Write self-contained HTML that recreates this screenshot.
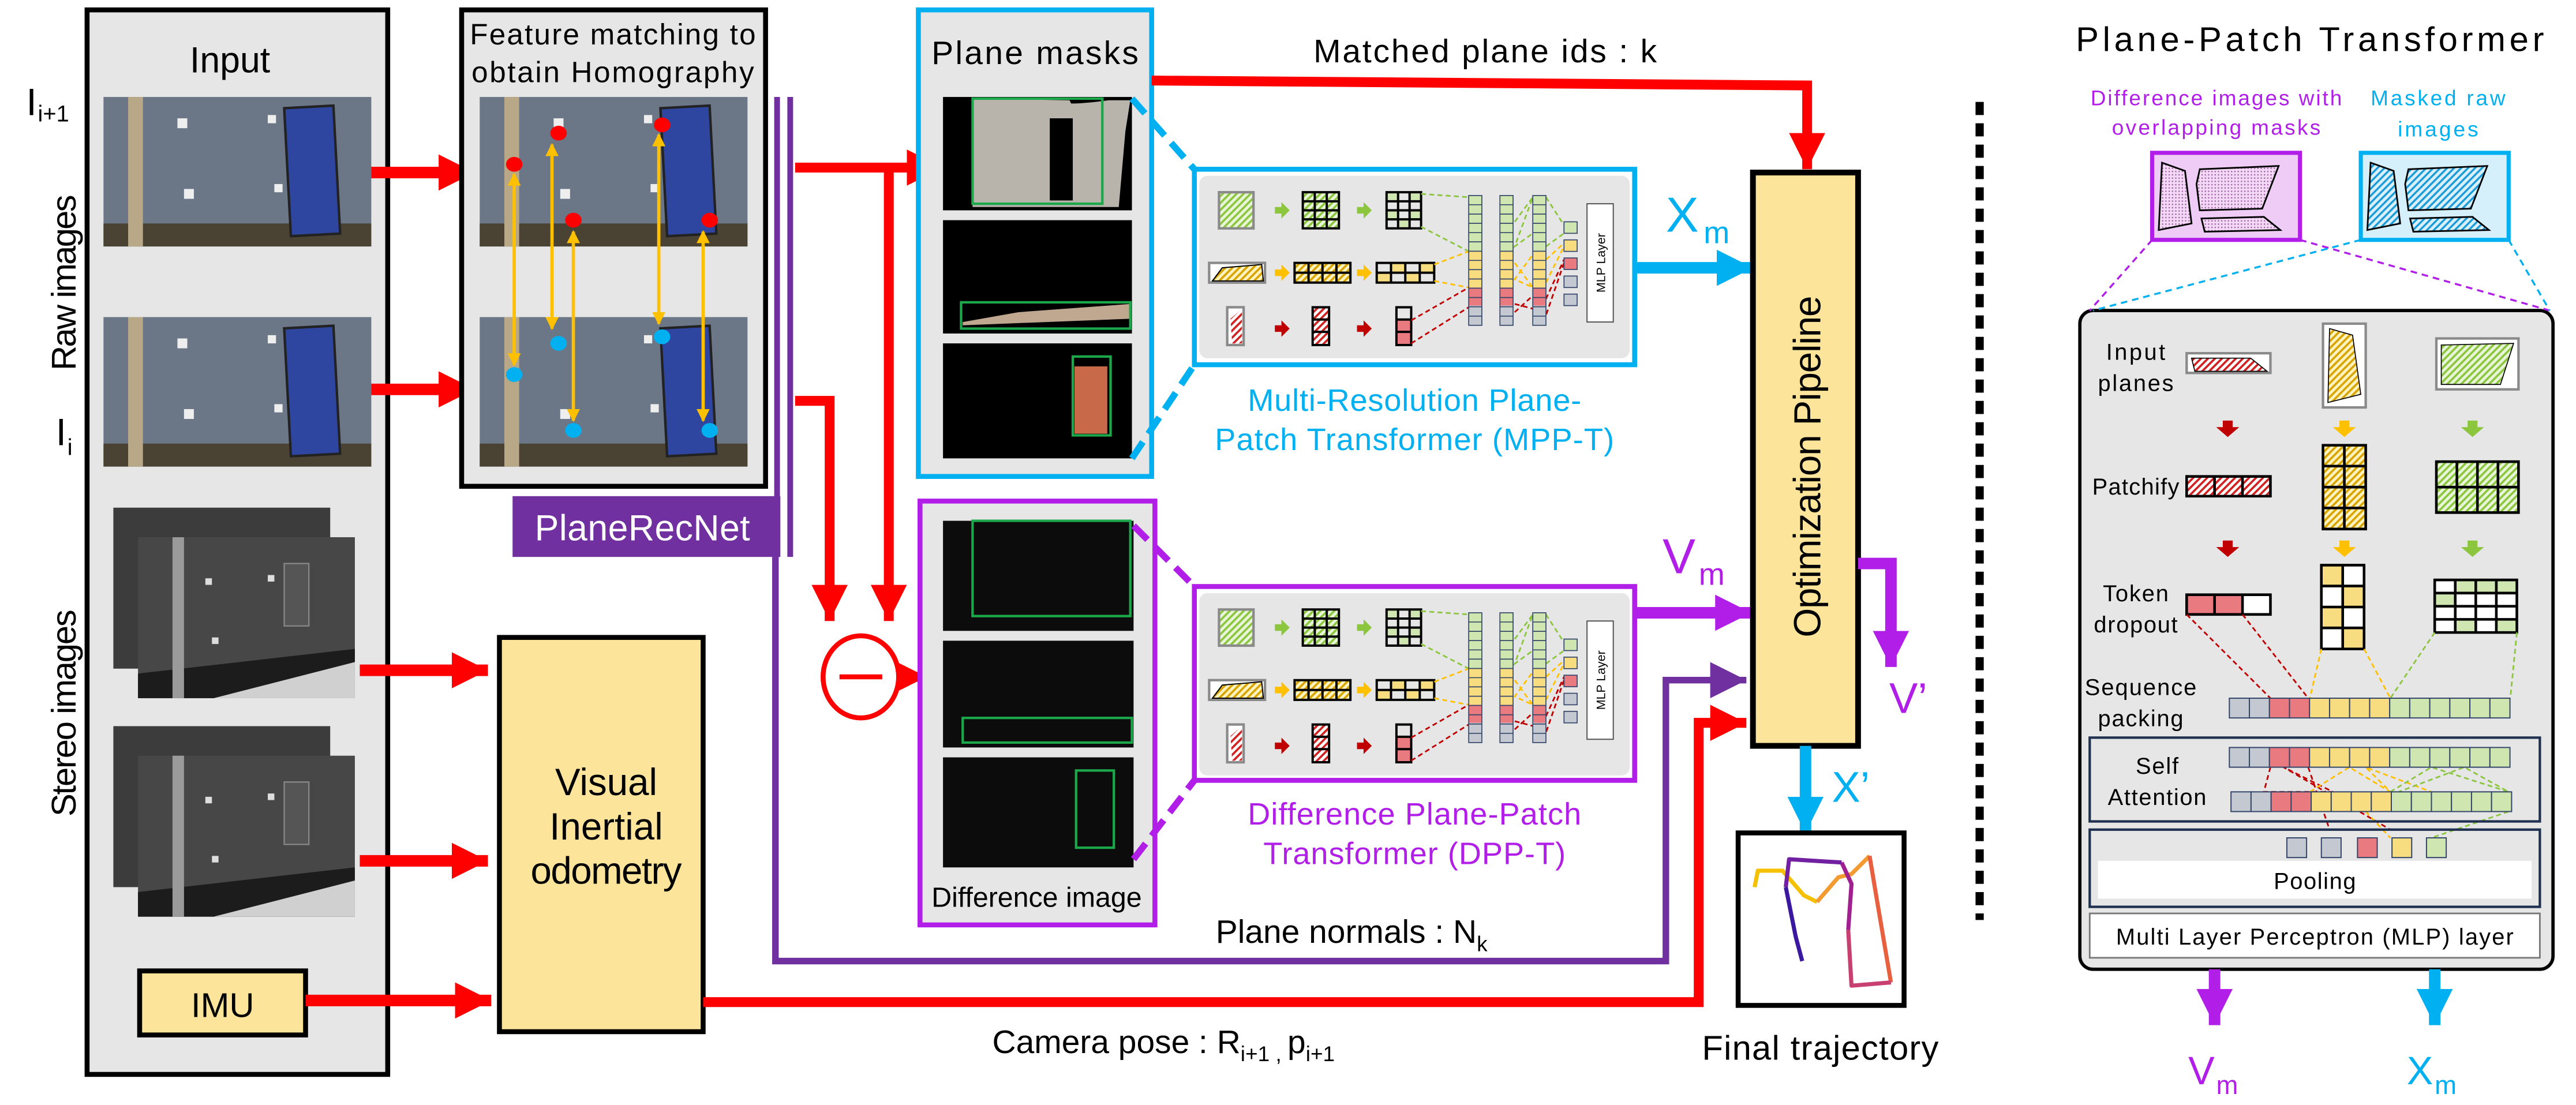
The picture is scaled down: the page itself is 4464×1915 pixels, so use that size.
<!DOCTYPE html>
<html><head><meta charset="utf-8">
<style>
html,body{margin:0;padding:0;background:#fff;}
svg{display:block;}
text{font-family:"Liberation Sans",sans-serif;}
</style></head>
<body>
<svg width="4464" height="1915" viewBox="0 0 1568 672.6" xmlns="http://www.w3.org/2000/svg">
<defs>
  <marker id="mr" markerUnits="userSpaceOnUse" markerWidth="24" markerHeight="22" refX="22" refY="11" orient="auto"><path d="M0,0 L22,11 L0,22 Z" fill="#f00"/></marker>
  <marker id="mc" markerUnits="userSpaceOnUse" markerWidth="24" markerHeight="22" refX="22" refY="11" orient="auto"><path d="M0,0 L22,11 L0,22 Z" fill="#00b0f0"/></marker>
  <marker id="mp" markerUnits="userSpaceOnUse" markerWidth="24" markerHeight="22" refX="22" refY="11" orient="auto"><path d="M0,0 L22,11 L0,22 Z" fill="#b01ee8"/></marker>
  <marker id="mpd" markerUnits="userSpaceOnUse" markerWidth="24" markerHeight="22" refX="22" refY="11" orient="auto"><path d="M0,0 L22,11 L0,22 Z" fill="#7030a0"/></marker>
  <marker id="my" markerUnits="userSpaceOnUse" markerWidth="8" markerHeight="8" refX="7" refY="4" orient="auto-start-reverse"><path d="M0,0 L8,4 L0,8 Z" fill="#ffc000"/></marker>
  <pattern id="hG" patternUnits="userSpaceOnUse" width="3" height="3" patternTransform="rotate(45)"><rect width="3" height="3" fill="#e8f5d8"/><rect width="1.3" height="3" fill="#8cc63f"/></pattern>
  <pattern id="hY" patternUnits="userSpaceOnUse" width="3" height="3" patternTransform="rotate(45)"><rect width="3" height="3" fill="#fff3c0"/><rect width="1.3" height="3" fill="#d9a400"/></pattern>
  <pattern id="hR" patternUnits="userSpaceOnUse" width="3" height="3" patternTransform="rotate(45)"><rect width="3" height="3" fill="#fff"/><rect width="1.3" height="3" fill="#d02020"/></pattern>
  <pattern id="hB" patternUnits="userSpaceOnUse" width="3" height="3" patternTransform="rotate(45)"><rect width="3" height="3" fill="#d8f0fb"/><rect width="1.2" height="3" fill="#1a9ad6"/></pattern>
  <pattern id="dP" patternUnits="userSpaceOnUse" width="2" height="2"><rect width="2" height="2" fill="#f3d9f5"/><rect width="0.8" height="0.8" fill="#a060a8"/></pattern>
  <g id="col">
    <rect x="0" y="0" width="8" height="34" fill="#cfe6b0"/>
    <rect x="0" y="34" width="8" height="22" fill="#f7dc80"/>
    <rect x="0" y="56" width="8" height="11" fill="#e87a80"/>
    <rect x="0" y="67" width="8" height="12" fill="#c4c8d0"/>
    <g fill="none" stroke="#34466a" stroke-width="0.6">
      <rect x="0" y="0" width="8" height="79"/>
      <path d="M0,5.6H8M0,11.3H8M0,16.9H8M0,22.6H8M0,28.2H8M0,33.9H8M0,39.5H8M0,45.1H8M0,50.8H8M0,56.4H8M0,62.1H8M0,67.7H8M0,73.4H8"/>
    </g>
  </g>
  <g id="tf">
    <rect x="730" y="107" width="262" height="111" rx="5" fill="#e6e6e6"/>
    <rect x="742" y="117" width="21" height="22" fill="url(#hG)" stroke="#8a8a8a" stroke-width="1.5"/>
    <path d="M776,126h4v-3l5,5-5,5v-3h-4z" fill="#8cc63f"/>
    <rect x="793" y="117" width="22" height="22" fill="url(#hG)"/>
    <path d="M793,117h22v22h-22zM800.3,117v22M807.6,117v22M793,122.5h22M793,128h22M793,133.5h22" fill="none" stroke="#000" stroke-width="1.4"/>
    <path d="M826,126h4v-3l5,5-5,5v-3h-4z" fill="#8cc63f"/>
    <rect x="844" y="117" width="21" height="22" fill="#e6e6e6"/>
    <rect x="844" y="117" width="7" height="5.5" fill="#cfe6b0"/><rect x="858" y="117" width="7" height="5.5" fill="#cfe6b0"/><rect x="844" y="128" width="7" height="5.5" fill="#cfe6b0"/><rect x="851" y="133.5" width="7" height="5.5" fill="#cfe6b0"/><rect x="858" y="128" width="7" height="5.5" fill="#cfe6b0"/>
    <path d="M844,117h21v22h-21zM851,117v22M858,117v22M844,122.5h21M844,128h21M844,133.5h21" fill="none" stroke="#000" stroke-width="1.4"/>
    <rect x="736" y="160" width="34" height="12" fill="#fff" stroke="#8a8a8a" stroke-width="1.5"/>
    <path d="M738,171 L744,163 L768,161 L769,171Z" fill="url(#hY)" stroke="#000" stroke-width="0.7"/>
    <path d="M776,164h4v-3l5,5-5,5v-3h-4z" fill="#ffc000"/>
    <rect x="788" y="160" width="34" height="12" fill="url(#hY)"/>
    <path d="M788,160h34v12h-34zM796.5,160v12M805,160v12M813.5,160v12M788,166h34" fill="none" stroke="#000" stroke-width="1.4"/>
    <path d="M826,164h4v-3l5,5-5,5v-3h-4z" fill="#ffc000"/>
    <rect x="838" y="160" width="35" height="12" fill="#e6e6e6"/>
    <rect x="846.7" y="160" width="8.7" height="6" fill="#f7dc80"/><rect x="864.2" y="160" width="8.7" height="6" fill="#f7dc80"/><rect x="838" y="166" width="8.7" height="6" fill="#f7dc80"/><rect x="855.4" y="166" width="8.7" height="6" fill="#f7dc80"/>
    <path d="M838,160h35v12h-35zM846.7,160v12M855.4,160v12M864.2,160v12M838,166h35" fill="none" stroke="#000" stroke-width="1.4"/>
    <rect x="747" y="187" width="10" height="23" fill="#fff" stroke="#8a8a8a" stroke-width="1.5"/>
    <path d="M749,194 L756,188 L756,209 L750,209Z" fill="url(#hR)"/>
    <path d="M776,198h4v-3l5,5-5,5v-3h-4z" fill="#c00000"/>
    <rect x="799" y="187" width="10" height="23" fill="url(#hR)"/>
    <path d="M799,187h10v23h-10zM799,194.5h10M799,202h10" fill="none" stroke="#000" stroke-width="1.4"/>
    <path d="M826,198h4v-3l5,5-5,5v-3h-4z" fill="#c00000"/>
    <rect x="850" y="195" width="9" height="15" fill="#e87a80"/>
    <path d="M850,187h9v23h-9zM850,194.5h9M850,202h9" fill="none" stroke="#000" stroke-width="1.4"/>
    <g fill="none" stroke-width="1" stroke-dasharray="3,2">
      <path d="M865,118 L894,120 M865,138 L894,153" stroke="#8cc63f"/>
      <path d="M873,161 L894,153 M873,171 L894,175" stroke="#ffc000"/>
      <path d="M859,195 L894,175 M859,209 L894,187" stroke="#c00000"/>
      <path d="M922,135 L933,120 L922,150 L933,142 M941,120 L952,137 M941,150 L952,142" stroke="#8cc63f"/>
      <path d="M922,160 L933,175 L922,170 L933,155 M941,158 L952,148 M941,172 L952,150" stroke="#ffc000"/>
      <path d="M922,190 L933,180 L941,192 L952,160 M922,185 L941,190 M941,182 L952,158" stroke="#c00000"/>
    </g>
    <use href="#col" x="894" y="119"/>
    <use href="#col" x="913" y="119"/>
    <use href="#col" x="933" y="119"/>
    <g stroke="#34466a" stroke-width="0.6">
      <rect x="952" y="135" width="8" height="7" fill="#cfe6b0"/>
      <rect x="952" y="146" width="8" height="7" fill="#f7dc80"/>
      <rect x="952" y="157" width="8" height="7" fill="#e87a80"/>
      <rect x="952" y="168" width="8" height="7" fill="#c4c8d0"/>
      <rect x="952" y="179" width="8" height="7" fill="#c4c8d0"/>
    </g>
    <rect x="966" y="124" width="16" height="72" fill="#fff" stroke="#555" stroke-width="0.7"/>
    <text x="0" y="0" transform="translate(977,160) rotate(-90)" text-anchor="middle" font-family="Liberation Serif,serif" font-size="7.5">MLP Layer</text>
  </g>
</defs>

<!-- ============ INPUT ============ -->
<rect x="53" y="6" width="183" height="648" fill="#e6e6e6" stroke="#000" stroke-width="3"/>
<text x="140" y="44" text-anchor="middle" font-size="22">Input</text>
<g id="raw">
  <rect x="63" y="59" width="163" height="91" fill="#6b7787"/>
  <rect x="63" y="136" width="163" height="14" fill="#4a4232"/>
  <rect x="78" y="59" width="9" height="91" fill="#b8a888"/>
  <rect x="175" y="65" width="30" height="78" fill="#2f46a0" stroke="#222" stroke-width="1.5" transform="rotate(-3 190 104)"/>
  <rect x="108" y="72" width="6" height="6" fill="#eee"/><rect x="163" y="70" width="5" height="5" fill="#eee"/><rect x="112" y="115" width="6" height="6" fill="#eee"/><rect x="167" y="112" width="5" height="5" fill="#eee"/>
</g>
<use href="#raw" y="134"/>
<g id="st">
  <rect x="69" y="309" width="132" height="98" fill="#3c3c3c"/>
  <rect x="84" y="327" width="132" height="98" fill="#474747"/>
  <path d="M84,410 L216,395 L216,425 L84,425Z" fill="#1c1c1c"/>
  <path d="M130,425 L216,403 L216,425Z" fill="#d0d0d0"/>
  <rect x="105" y="327" width="7" height="98" fill="#9a9a9a"/>
  <rect x="173" y="343" width="15" height="38" fill="#555" stroke="#888" stroke-width="0.8"/>
  <rect x="125" y="352" width="4" height="4" fill="#ddd"/><rect x="163" y="350" width="4" height="4" fill="#ddd"/><rect x="129" y="388" width="4" height="4" fill="#ddd"/>
</g>
<use href="#st" y="133"/>
<rect x="85" y="591" width="101" height="39" fill="#fde49b" stroke="#000" stroke-width="3"/>
<text x="135.5" y="619" text-anchor="middle" font-size="21">IMU</text>

<text x="16" y="70" font-size="23">I</text><text x="23" y="74" font-size="14">i+1</text>
<text x="34" y="271" font-size="23">I</text><text x="41" y="277" font-size="14">i</text>
<text transform="translate(46,172) rotate(-90)" text-anchor="middle" font-size="21" textLength="107">Raw images</text>
<text transform="translate(46,434) rotate(-90)" text-anchor="middle" font-size="21" textLength="126">Stereo images</text>

<g stroke="#f00" stroke-width="7" fill="none">
  <path d="M226,105 L289,105" marker-end="url(#mr)"/>
  <path d="M226,237 L289,237" marker-end="url(#mr)"/>
  <path d="M219,408 L297,408" marker-end="url(#mr)"/>
  <path d="M219,524 L297,524" marker-end="url(#mr)"/>
  <path d="M186,609 L299,609" marker-end="url(#mr)"/>
</g>

<!-- ============ FEATURE ============ -->
<rect x="281" y="6" width="185" height="290" fill="#e6e6e6" stroke="#000" stroke-width="3"/>
<text x="373" y="27" text-anchor="middle" font-size="18" textLength="174">Feature matching to</text>
<text x="373" y="50" text-anchor="middle" font-size="18" textLength="172">obtain Homography</text>
<g transform="translate(229,0)"><use href="#raw"/></g>
<g transform="translate(229,134)"><use href="#raw"/></g>
<g stroke="#ffc000" stroke-width="2" fill="none">
  <path d="M313,106 L313,222" marker-start="url(#my)" marker-end="url(#my)"/>
  <path d="M336,88 L336,200" marker-start="url(#my)" marker-end="url(#my)"/>
  <path d="M349,141 L349,256" marker-start="url(#my)" marker-end="url(#my)"/>
  <path d="M401,82 L401,197" marker-start="url(#my)" marker-end="url(#my)"/>
  <path d="M428,141 L428,256" marker-start="url(#my)" marker-end="url(#my)"/>
</g>
<g fill="#f00"><ellipse cx="340" cy="81" rx="5" ry="4.5"/><ellipse cx="313" cy="100" rx="5" ry="4.5"/><ellipse cx="349" cy="134" rx="5" ry="4.5"/><ellipse cx="403" cy="76" rx="5" ry="4.5"/><ellipse cx="432" cy="134" rx="5" ry="4.5"/></g>
<g fill="#00b0f0"><ellipse cx="313" cy="228" rx="5" ry="4.5"/><ellipse cx="340" cy="209" rx="5" ry="4.5"/><ellipse cx="349" cy="262" rx="5" ry="4.5"/><ellipse cx="403" cy="205" rx="5" ry="4.5"/><ellipse cx="432" cy="262" rx="5" ry="4.5"/></g>

<rect x="312" y="302" width="163" height="37" fill="#7030a0"/>
<text x="391" y="329" text-anchor="middle" font-size="22" fill="#fff" textLength="131">PlaneRecNet</text>
<path d="M473,59 V339 M481,59 V339" stroke="#7030a0" stroke-width="3.5" fill="none"/>
<path d="M472,339 V585 H1014 V414 H1063" stroke="#7030a0" stroke-width="4" fill="none" marker-end="url(#mpd)"/>

<g stroke="#f00" stroke-width="6" fill="none">
  <path d="M484,102 H574" marker-end="url(#mr)"/>
  <path d="M541,102 V378" marker-end="url(#mr)"/>
  <path d="M484,244 H505 V378" marker-end="url(#mr)"/>
  <path d="M548,412 H564" marker-end="url(#mr)"/>
</g>
<ellipse cx="524" cy="412" rx="23" ry="25" fill="#fff" stroke="#f00" stroke-width="3"/>
<path d="M511,412 H537" stroke="#f00" stroke-width="3"/>

<rect x="304" y="388" width="124" height="240" fill="#fde49b" stroke="#000" stroke-width="3"/>
<text x="369" y="484" text-anchor="middle" font-size="23">Visual</text>
<text x="369" y="511" text-anchor="middle" font-size="23">Inertial</text>
<text x="369" y="538" text-anchor="middle" font-size="23" textLength="92">odometry</text>
<path d="M428,610 H1034 V440 H1063" stroke="#f00" stroke-width="6" fill="none" marker-end="url(#mr)"/>

<!-- ============ PLANE MASKS ============ -->
<rect x="559" y="6" width="142" height="284" fill="#e6e6e6" stroke="#00b0f0" stroke-width="3"/>
<text x="630" y="39" text-anchor="middle" font-size="20" textLength="126">Plane masks</text>
<rect x="574" y="59" width="115" height="69" fill="#000"/>
<path d="M592,60 L651,61 L652,63 Q660,63 675,61 L688,61 L685,80 L681,126 L592,126Z" fill="#b8b4ac"/>
<rect x="639" y="72" width="14" height="50" fill="#000"/>
<rect x="592" y="60" width="79" height="64" fill="none" stroke="#1aa84a" stroke-width="1.5"/>
<rect x="574" y="134" width="115" height="69" fill="#000"/>
<path d="M586,196 L620,190 L688,185 L688,194 L586,198Z" fill="#c0a890"/>
<rect x="585" y="184" width="103" height="16" fill="none" stroke="#1aa84a" stroke-width="1.5"/>
<rect x="574" y="209" width="115" height="70" fill="#000"/>
<rect x="654" y="223" width="20" height="41" fill="#c86a4a"/>
<rect x="653" y="217" width="23" height="48" fill="none" stroke="#1aa84a" stroke-width="1.5"/>

<!-- ============ DIFF ============ -->
<rect x="560" y="305" width="143" height="258" fill="#e6e6e6" stroke="#b01ee8" stroke-width="3"/>
<rect x="574" y="317" width="116" height="67" fill="#0c0c0c"/>
<rect x="592" y="317" width="96" height="58" fill="none" stroke="#1aa84a" stroke-width="1.5"/>
<rect x="574" y="390" width="116" height="65" fill="#0c0c0c"/>
<rect x="586" y="437" width="103" height="15" fill="none" stroke="#1aa84a" stroke-width="1.5"/>
<rect x="574" y="461" width="116" height="67" fill="#0c0c0c"/>
<rect x="655" y="469" width="23" height="47" fill="none" stroke="#1aa84a" stroke-width="1.5"/>
<text x="631" y="552" text-anchor="middle" font-size="17" textLength="128">Difference image</text>

<path d="M689,60 L727,103 M689,279 L727,222" stroke="#00b0f0" stroke-width="4" stroke-dasharray="12,6" fill="none"/>
<path d="M690,320 L727,357 M690,523 L727,475" stroke="#b01ee8" stroke-width="4" stroke-dasharray="12,6" fill="none"/>

<rect x="727" y="103" width="268" height="119" fill="#fff" stroke="#00b0f0" stroke-width="3"/>
<use href="#tf"/>
<rect x="727" y="357" width="268" height="118" fill="#fff" stroke="#b01ee8" stroke-width="3"/>
<use href="#tf" y="254"/>
<text x="861" y="250" text-anchor="middle" font-size="19" fill="#00b0f0" textLength="203">Multi-Resolution Plane-</text>
<text x="861" y="274" text-anchor="middle" font-size="19" fill="#00b0f0" textLength="243">Patch Transformer (MPP-T)</text>
<text x="861" y="502" text-anchor="middle" font-size="19" fill="#b01ee8" textLength="203">Difference Plane-Patch</text>
<text x="861" y="526" text-anchor="middle" font-size="19" fill="#b01ee8" textLength="184">Transformer (DPP-T)</text>

<text x="904" y="38" text-anchor="middle" font-size="20" textLength="209">Matched plane ids : k</text>
<path d="M701,49 L1100,52 V103" stroke="#f00" stroke-width="6" fill="none" marker-end="url(#mr)"/>

<path d="M995,163 H1067" stroke="#00b0f0" stroke-width="7" fill="none" marker-end="url(#mc)"/>
<text x="1014" y="141" font-size="30" fill="#00b0f0">X</text><text x="1037" y="148" font-size="19" fill="#00b0f0">m</text>
<path d="M995,373 H1066" stroke="#b01ee8" stroke-width="7" fill="none" marker-end="url(#mp)"/>
<text x="1012" y="349" font-size="30" fill="#b01ee8">V</text><text x="1034" y="356" font-size="19" fill="#b01ee8">m</text>

<rect x="1067" y="105" width="64" height="349" fill="#fde49b" stroke="#000" stroke-width="3.5"/>
<text transform="translate(1108,284) rotate(-90)" text-anchor="middle" font-size="23" textLength="208">Optimization Pipeline</text>
<path d="M1131,343 H1151 V406" stroke="#b01ee8" stroke-width="7" fill="none" marker-end="url(#mp)"/>
<text x="1150" y="434" font-size="26" fill="#b01ee8">V’</text>
<path d="M1099,454 V507" stroke="#00b0f0" stroke-width="7" fill="none" marker-end="url(#mc)"/>
<text x="1115" y="488" font-size="26" fill="#00b0f0">X’</text>

<rect x="1058" y="507" width="101" height="105" fill="#fff" stroke="#000" stroke-width="3"/>
<g fill="none" stroke-width="2.5" stroke-linejoin="round">
  <path d="M1068,540 L1070,530 L1085,530 L1098,545 L1106,549" stroke="#f5c000"/>
  <path d="M1106,549 L1119,534 L1127,532 L1138,521" stroke="#f39a30"/>
  <path d="M1138,521 L1142,545 L1151,598" stroke="#e86040"/>
  <path d="M1151,598 L1127,600 L1125,566" stroke="#c84070"/>
  <path d="M1125,566 L1127,538 L1121,525" stroke="#a02090"/>
  <path d="M1121,525 L1089,523 L1087,540" stroke="#7020a0"/>
  <path d="M1087,540 L1093,570 L1097,585" stroke="#3a18a0"/>
</g>
<text x="1108" y="645" text-anchor="middle" font-size="21" textLength="144">Final trajectory</text>

<text x="740" y="574" font-size="20">Plane normals : N<tspan font-size="13" dy="5">k</tspan></text>
<text x="604" y="641" font-size="20">Camera pose : R<tspan font-size="13" dy="5">i+1 , </tspan><tspan dy="-5">p</tspan><tspan font-size="13" dy="5">i+1</tspan></text>

<path d="M1205,62 V560" stroke="#000" stroke-width="5" stroke-dasharray="8,5"/>

<!-- ============ RIGHT PANEL ============ -->
<text x="1406" y="31" text-anchor="middle" font-size="21" textLength="285">Plane-Patch Transformer</text>
<text x="1349" y="64" text-anchor="middle" font-size="13" fill="#b01ee8" textLength="153">Difference images with</text>
<text x="1349" y="82" text-anchor="middle" font-size="13" fill="#b01ee8" textLength="127">overlapping masks</text>
<text x="1484" y="64" text-anchor="middle" font-size="13" fill="#00b0f0" textLength="82">Masked raw</text>
<text x="1484" y="83" text-anchor="middle" font-size="13" fill="#00b0f0" textLength="49">images</text>
<rect x="1310" y="93" width="90" height="53" fill="#efccf5" stroke="#b01ee8" stroke-width="2.5"/>
<g fill="url(#dP)" stroke="#000" stroke-width="1">
  <path d="M1316,99 L1330,104 L1334,136 L1314,140Z"/><path d="M1339,103 L1387,101 L1377,127 L1339,128 L1337,112Z"/><path d="M1340,133 L1378,132 L1388,140 L1342,141Z"/>
</g>
<rect x="1437" y="93" width="90" height="53" fill="#d6f0fb" stroke="#00b0f0" stroke-width="2.5"/>
<g fill="url(#hB)" stroke="#000" stroke-width="1">
  <path d="M1443,99 L1457,104 L1461,136 L1441,140Z"/><path d="M1466,103 L1514,101 L1504,127 L1466,128 L1464,112Z"/><path d="M1467,133 L1505,132 L1515,140 L1469,141Z"/>
</g>
<rect x="1266" y="189" width="288" height="401" rx="8" fill="#e6e6e6" stroke="#000" stroke-width="2"/>
<path d="M1310,146 L1272,189 M1400,146 L1552,189" stroke="#b01ee8" stroke-width="1.2" stroke-dasharray="4,3" fill="none"/>
<path d="M1437,146 L1274,189 M1527,146 L1552,189" stroke="#00b0f0" stroke-width="1.2" stroke-dasharray="4,3" fill="none"/>

<g font-size="14" text-anchor="middle">
  <text x="1300" y="219" textLength="36">Input</text><text x="1300" y="238" textLength="46">planes</text>
  <text x="1300" y="301" textLength="53">Patchify</text>
  <text x="1300" y="366" textLength="40">Token</text><text x="1300" y="385" textLength="51">dropout</text>
  <text x="1303" y="423" textLength="68">Sequence</text><text x="1303" y="442" textLength="52">packing</text>
  <text x="1313" y="471" textLength="26">Self</text><text x="1313" y="490" textLength="60">Attention</text>
</g>
<rect x="1331" y="215" width="51" height="12" fill="#fff" stroke="#8a8a8a" stroke-width="1.5"/>
<path d="M1334,218 L1370,218 L1380,226 L1336,226Z" fill="url(#hR)" stroke="#000" stroke-width="0.6"/>
<rect x="1414" y="197" width="26" height="51" fill="#fff" stroke="#8a8a8a" stroke-width="1.5"/>
<path d="M1418,200 L1432,204 L1437,240 L1417,245Z" fill="url(#hY)" stroke="#000" stroke-width="0.6"/>
<rect x="1483" y="206" width="50" height="31" fill="#fff" stroke="#8a8a8a" stroke-width="1.5"/>
<path d="M1486,210 L1530,209 L1522,234 L1486,234Z" fill="url(#hG)" stroke="#000" stroke-width="0.6"/>
<g>
  <path d="M1353,256h6v4h4l-7,6-7-6h4z" fill="#c00000"/>
  <path d="M1424,256h6v4h4l-7,6-7-6h4z" fill="#ffc000"/>
  <path d="M1502,256h6v4h4l-7,6-7-6h4z" fill="#8cc63f"/>
  <path d="M1353,329h6v4h4l-7,6-7-6h4z" fill="#c00000"/>
  <path d="M1424,329h6v4h4l-7,6-7-6h4z" fill="#ffc000"/>
  <path d="M1502,329h6v4h4l-7,6-7-6h4z" fill="#8cc63f"/>
</g>
<rect x="1331" y="290" width="51" height="12" fill="url(#hR)"/>
<path d="M1331,290h51v12h-51zM1348,290v12M1365,290v12" fill="none" stroke="#000" stroke-width="1.6"/>
<rect x="1414" y="271" width="26" height="51" fill="url(#hY)"/>
<path d="M1414,271h26v51h-26zM1427,271v51M1414,283.7h26M1414,296.5h26M1414,309.2h26" fill="none" stroke="#000" stroke-width="1.6"/>
<rect x="1483" y="281" width="50" height="31" fill="url(#hG)"/>
<path d="M1483,281h50v31h-50zM1495.5,281v31M1508,281v31M1520.5,281v31M1483,296.5h50" fill="none" stroke="#000" stroke-width="1.6"/>
<rect x="1331" y="362" width="51" height="12" fill="#fff"/>
<rect x="1331" y="362" width="17" height="12" fill="#e87a80"/><rect x="1348" y="362" width="17" height="12" fill="#e87a80"/>
<path d="M1331,362h51v12h-51zM1348,362v12M1365,362v12" fill="none" stroke="#000" stroke-width="1.6"/>
<rect x="1413" y="344" width="26" height="51" fill="#fff"/>
<rect x="1413" y="344" width="13" height="12.7" fill="#f7dc80"/><rect x="1426" y="356.7" width="13" height="12.7" fill="#f7dc80"/><rect x="1413" y="369.5" width="13" height="12.7" fill="#f7dc80"/><rect x="1426" y="382.2" width="13" height="12.7" fill="#f7dc80"/>
<path d="M1413,344h26v51h-26zM1426,344v51M1413,356.7h26M1413,369.5h26M1413,382.2h26" fill="none" stroke="#000" stroke-width="1.6"/>
<rect x="1482" y="353" width="50" height="32" fill="#fff"/>
<rect x="1494.5" y="353" width="12.5" height="8" fill="#cfe6b0"/><rect x="1507" y="353" width="12.5" height="8" fill="#cfe6b0"/><rect x="1519.5" y="353" width="12.5" height="8" fill="#cfe6b0"/><rect x="1482" y="361" width="12.5" height="8" fill="#cfe6b0"/><rect x="1494.5" y="377" width="12.5" height="8" fill="#cfe6b0"/><rect x="1519.5" y="377" width="12.5" height="8" fill="#cfe6b0"/>
<path d="M1482,353h50v32h-50zM1494.5,353v32M1507,353v32M1519.5,353v32M1482,361h50M1482,369h50M1482,377h50" fill="none" stroke="#000" stroke-width="1.6"/>
<g fill="none" stroke-width="1" stroke-dasharray="3,2">
  <path d="M1331,374 L1382,425 M1365,374 L1405,425" stroke="#c00000"/>
  <path d="M1413,395 L1406,425 M1439,395 L1455,425" stroke="#ffc000"/>
  <path d="M1482,385 L1455,425 M1532,385 L1528,425" stroke="#8cc63f"/>
  <path d="M1382,467 L1378,482 L1420,482 L1390,467 L1455,505 M1405,467 L1418,505" stroke="#c00000"/>
  <path d="M1406,482 L1430,467 L1455,482 L1440,467 L1480,482 M1440,494 L1455,510" stroke="#ffc000"/>
  <path d="M1455,482 L1480,467 L1527,482 L1500,467 L1460,482 M1527,494 L1480,510" stroke="#8cc63f"/>
</g>
<g id="seq" stroke="#34466a" stroke-width="0.7">
  <rect x="1357" y="425" width="12.2" height="12" fill="#c4c8d0"/>
  <rect x="1369.2" y="425" width="12.2" height="12" fill="#c4c8d0"/>
  <rect x="1381.4" y="425" width="12.2" height="12" fill="#e87a80"/>
  <rect x="1393.6" y="425" width="12.2" height="12" fill="#e87a80"/>
  <rect x="1405.8" y="425" width="12.2" height="12" fill="#f7dc80"/>
  <rect x="1418" y="425" width="12.2" height="12" fill="#f7dc80"/>
  <rect x="1430.2" y="425" width="12.2" height="12" fill="#f7dc80"/>
  <rect x="1442.4" y="425" width="12.2" height="12" fill="#f7dc80"/>
  <rect x="1454.6" y="425" width="12.2" height="12" fill="#cfe6b0"/>
  <rect x="1466.8" y="425" width="12.2" height="12" fill="#cfe6b0"/>
  <rect x="1479" y="425" width="12.2" height="12" fill="#cfe6b0"/>
  <rect x="1491.2" y="425" width="12.2" height="12" fill="#cfe6b0"/>
  <rect x="1503.4" y="425" width="12.2" height="12" fill="#cfe6b0"/>
  <rect x="1515.6" y="425" width="12.2" height="12" fill="#cfe6b0"/>
</g>
<rect x="1272" y="449" width="274" height="51" fill="none" stroke="#1f3050" stroke-width="1.5"/>
<use href="#seq" y="30"/>
<use href="#seq" x="1" y="57"/>
<rect x="1272" y="505" width="274" height="47" fill="none" stroke="#1f3050" stroke-width="1.5"/>
<g stroke="#34466a" stroke-width="0.7">
  <rect x="1392" y="510" width="12" height="12" fill="#c4c8d0"/>
  <rect x="1413" y="510" width="12" height="12" fill="#c4c8d0"/>
  <rect x="1435" y="510" width="12" height="12" fill="#e87a80"/>
  <rect x="1456" y="510" width="12" height="12" fill="#f7dc80"/>
  <rect x="1477" y="510" width="12" height="12" fill="#cfe6b0"/>
</g>
<rect x="1277" y="524" width="264" height="23" fill="#fff"/>
<text x="1409" y="541" text-anchor="middle" font-size="14" textLength="50">Pooling</text>
<rect x="1272" y="556" width="274" height="27" fill="#fff" stroke="#777" stroke-width="1"/>
<text x="1409" y="575" text-anchor="middle" font-size="14" textLength="242">Multi Layer Perceptron (MLP)  layer</text>
<path d="M1348,590 V624" stroke="#b01ee8" stroke-width="7" fill="none" marker-end="url(#mp)"/>
<path d="M1482,590 V624" stroke="#00b0f0" stroke-width="7" fill="none" marker-end="url(#mc)"/>
<text x="1332" y="660" font-size="24" fill="#b01ee8">V</text><text x="1349" y="666" font-size="16" fill="#b01ee8">m</text>
<text x="1465" y="660" font-size="24" fill="#00b0f0">X</text><text x="1482" y="666" font-size="16" fill="#00b0f0">m</text>
</svg>
</body></html>
